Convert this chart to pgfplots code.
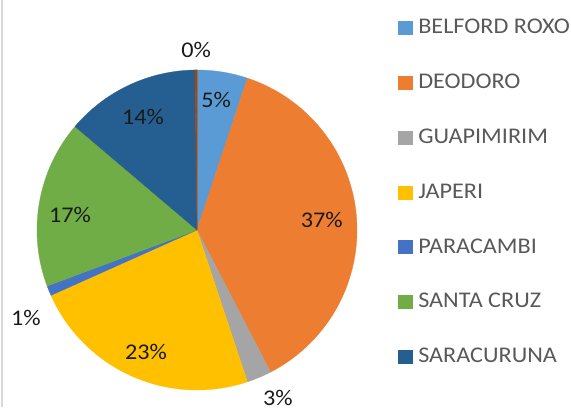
\documentclass[border=0pt]{standalone}
\usepackage{pgfplots}
\pgfplotsset{compat=1.18}
\usepackage{fontspec}
\setmainfont{Carlito}[FakeStretch=1.08]
\definecolor{cBel}{HTML}{5B9BD5}
\definecolor{cDeo}{HTML}{ED7D31}
\definecolor{cGua}{HTML}{A5A5A5}
\definecolor{cJap}{HTML}{FFC000}
\definecolor{cPar}{HTML}{4472C4}
\definecolor{cSan}{HTML}{70AD47}
\definecolor{cSar}{HTML}{255E91}
\definecolor{cOth}{HTML}{9E480E}
\definecolor{legtext}{HTML}{595959}
\definecolor{labtext}{HTML}{1A1A1A}
% slice: start %, end %, colour
\newcommand{\slice}[3]{%
  \addplot[fill=#3, draw=#3, line width=0.3pt, domain={#1*3.6}:{#2*3.6}, samples=80, variable=\t]
    ({sin(\t)},{cos(\t)}) -- (axis cs:0,0) -- cycle;}
\begin{document}
\begin{tikzpicture}[x=1bp,y=1bp]
\path[use as bounding box] (0,0) rectangle (571,407);
\draw[black!15, line width=1.5bp] (2,0) -- (2,407);
\begin{axis}[
  at={(197bp,177bp)}, anchor=center,
  scale only axis, width=320bp, height=320bp,
  xmin=-1, xmax=1, ymin=-1, ymax=1,
  hide axis, clip=false,
  legend image code/.code={\fill[#1] (0bp,-6.5bp) rectangle (14bp,6.5bp);},
  legend style={
    at={(1.128,1.163)}, anchor=north west,
    draw=none, fill=none, inner sep=0pt, outer sep=0pt,
    row sep=34.8bp, column sep=0pt,
    font=\fontsize{22.5}{26}\selectfont, text=legtext,
    nodes={inner sep=0pt, inner xsep=6bp, text height=16bp, text depth=4bp, anchor=west},
  },
  legend cell align=left,
]
% values (%): 5.1, 37.3, 2.5, 23.4, 1.0, 16.9, 13.6, 0.2
\slice{0}{5.1}{cBel}
\addlegendentry{BELFORD ROXO}
\slice{5.1}{42.4}{cDeo}
\addlegendentry{DEODORO}
\slice{42.4}{44.9}{cGua}
\addlegendentry{GUAPIMIRIM}
\slice{44.9}{68.3}{cJap}
\addlegendentry{JAPERI}
\slice{68.3}{69.3}{cPar}
\addlegendentry{PARACAMBI}
\slice{69.3}{86.2}{cSan}
\addlegendentry{SANTA CRUZ}
\slice{86.2}{99.8}{cSar}
\addlegendentry{SARACURUNA}
\addplot[forget plot, fill=cOth, draw=cOth, line width=0.6pt, domain=359.28:360, samples=5, variable=\t]
    ({sin(\t)},{cos(\t)}) -- (axis cs:0,0) -- cycle;
\begin{scope}[font=\fontsize{22.5}{26}\selectfont, text=labtext]
\node at (axis cs:-0.006,1.125) {0\%};
\node at (axis cs:0.119,0.8125) {5\%};
\node at (axis cs:0.78,0.0625) {37\%};
\node at (axis cs:0.506,-1.05) {3\%};
\node at (axis cs:-0.319,-0.7625) {23\%};
\node at (axis cs:-1.069,-0.55) {1\%};
\node at (axis cs:-0.794,0.094) {17\%};
\node at (axis cs:-0.3375,0.706) {14\%};
\end{scope}
\end{axis}
\end{tikzpicture}
\end{document}
